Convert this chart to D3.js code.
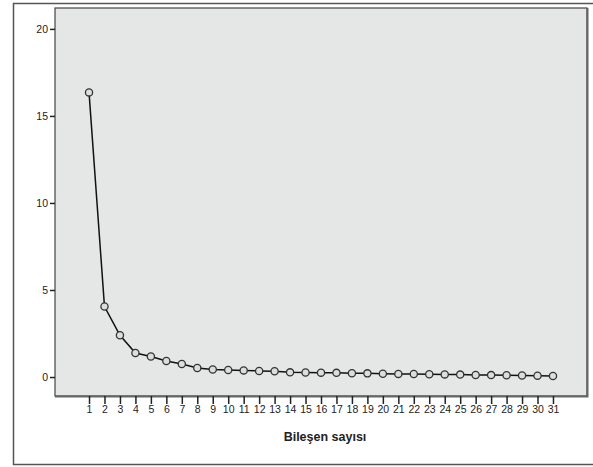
<!DOCTYPE html>
<meta charset="utf-8">
<style>
  body { margin: 0; background: #fff; }
  text { font-family: "Liberation Sans", Arial, sans-serif; fill: #222; }
</style>
<svg width="593" height="467"></svg>
<script src="https://d3js.org/d3.v7.min.js"></script>
<script>

    // scree plot: eigenvalue per component
    var components = d3.range(1, 32)
    var eigenvalues = [16.35, 4.05, 2.4, 1.38, 1.18, 0.92, 0.75, 0.52, 0.43, 0.40,
                       0.38, 0.35, 0.33, 0.27, 0.26, 0.25, 0.24, 0.22, 0.21, 0.19,
                       0.18, 0.17, 0.16, 0.15, 0.14, 0.12, 0.11, 0.10, 0.09, 0.08, 0.06]
    var yTicks = [0, 5, 10, 15, 20]
    var xTitle = 'Bileşen sayısı'

    var svg = d3.select('svg')

    var plot = {left: 55, top: 8, right: 587, bottom: 396}

    var x = d3.scaleLinear().domain([-1.2, 33.2]).range([plot.left, plot.right])
    var y = d3.scaleLinear().domain([-1.09, 21.2]).range([plot.bottom, plot.top])

    // outer frame
    svg.append('rect')
        .attr('x', 13.5).attr('y', 3.5)
        .attr('width', 600).attr('height', 461)
        .attr('fill', 'none')
        .attr('stroke', '#555').attr('stroke-width', 1.5)

    // plot background
    svg.append('rect')
        .attr('x', plot.left).attr('y', plot.top)
        .attr('width', plot.right - plot.left).attr('height', plot.bottom - plot.top)
        .attr('fill', '#e5e7e7')
        .attr('stroke', '#444').attr('stroke-width', 1.2)
    // slightly heavier right/bottom edge
    svg.append('path')
        .attr('d', 'M' + (plot.right + 0.5) + ',' + plot.top + 'V' + (plot.bottom + 0.5) + 'H' + plot.left)
        .attr('fill', 'none').attr('stroke', '#666').attr('stroke-width', 2)

    var yAxis = svg.append('g')
        .attr('transform', 'translate(' + plot.left + ',0)')
        .call(d3.axisLeft(y).tickValues(yTicks).tickSize(5).tickPadding(2))
    yAxis.select('.domain').remove()
    yAxis.selectAll('line').attr('stroke', '#222').attr('stroke-width', 1.5)
    yAxis.selectAll('text').attr('font-size', 10.5).attr('font-family', null)

    var xAxis = svg.append('g')
        .attr('transform', 'translate(0,' + plot.bottom + ')')
        .call(d3.axisBottom(x).tickValues(components).tickFormat(d3.format('d')).tickSize(8).tickPadding(2))
    xAxis.select('.domain').remove()
    xAxis.selectAll('line').attr('stroke', '#222').attr('stroke-width', 1.5)
    xAxis.selectAll('text').attr('font-size', 10.5).attr('font-family', null)

    svg.append('text')
        .attr('x', 325).attr('y', 441)
        .attr('text-anchor', 'middle')
        .attr('font-size', 12.5).attr('font-weight', 'bold')
        .text(xTitle)

    var line = d3.line()
        .x(function (d, i) { return x(components[i]) })
        .y(function (d) { return y(d) })

    svg.append('path')
        .datum(eigenvalues)
        .attr('d', line)
        .attr('fill', 'none')
        .attr('stroke', '#111')
        .attr('stroke-width', 1.5)

    svg.append('g').selectAll('circle')
        .data(eigenvalues)
        .enter().append('circle')
        .attr('cx', function (d, i) { return x(components[i]) })
        .attr('cy', function (d) { return y(d) })
        .attr('r', 3.6)
        .attr('fill', '#dcdede')
        .attr('stroke', '#333')
        .attr('stroke-width', 1.3)

</script>
